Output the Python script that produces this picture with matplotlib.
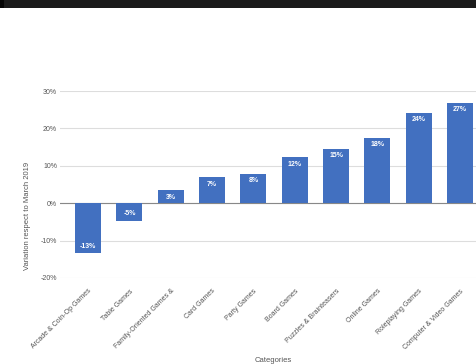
import matplotlib.pyplot as plt
from matplotlib.patches import Rectangle

categories = ["Arcade & Coin-Op Games", "Table Games", "Family-Oriented Games &",
              "Card Games", "Party Games", "Board Games", "Puzzles & Brainteasers",
              "Online Games", "Roleplaying Games", "Computer & Video Games"]
variation = [-13.4, -4.7, 3.4, 7.0, 7.9, 12.3, 14.6, 17.5, 24.2, 26.9]
bar_labels = ["-13%", "-5%", "3%", "7%", "8%", "12%", "15%", "18%", "24%", "27%"]
y_ticks = [-20, -10, 0, 10, 20, 30]

plt.rcParams['font.family'] = ['Liberation Sans', 'DejaVu Sans']
text_color = '#555555'
bar_color = '#4270c0'

fig = plt.figure(figsize=(4.77, 3.64), dpi=100)
fig.patch.set_facecolor('white')

# dark strip along the top of the screenshot
fig.patches.append(Rectangle((0, 1 - 8 / 364), 1, 8 / 364, transform=fig.transFigure,
                             facecolor='#1b1b1b', edgecolor='none', zorder=0))
fig.patches.append(Rectangle((0, 1 - 8 / 364), 4 / 477, 8 / 364, transform=fig.transFigure,
                             facecolor='#050505', edgecolor='none', zorder=1))

ax = fig.add_axes([60 / 477, 1 - 278 / 364, 417 / 477, (278 - 91) / 364])
x = range(len(categories))
bars = ax.bar(x, variation, width=0.63, color=bar_color, zorder=3)

for b, v, lab in zip(bars, variation, bar_labels):
    cx = b.get_x() + b.get_width() / 2
    if v >= 0:
        ax.text(cx, v - 1.0, lab, ha='center', va='top', color='white',
                fontsize=5, fontweight='bold', zorder=4)
    else:
        ax.text(cx, v + 1.0, lab, ha='center', va='bottom', color='white',
                fontsize=5, fontweight='bold', zorder=4)

ax.set_ylim(-20, 30)
ax.set_xlim(-0.68, 9.41)
ax.set_yticks(y_ticks)
ax.set_yticklabels([f"{t}%" for t in y_ticks])
ax.set_xticks(list(x))
ax.set_xticklabels(categories, rotation=45, ha='right', va='top', rotation_mode='anchor')
ax.tick_params(axis='both', length=0, labelsize=5, labelcolor=text_color)
ax.tick_params(axis='y', pad=2)
ax.tick_params(axis='x', pad=7)

ax.grid(True, axis='y', color='#dddddd', linewidth=0.8, zorder=0)
ax.axhline(0, color='#888888', linewidth=0.8, zorder=2)
for s in ax.spines.values():
    s.set_visible(False)

fig.text(28 / 477, 1 - 216 / 364, "Variation respect to March 2019", rotation=90,
         ha='center', va='center', fontsize=5.5, color=text_color)
fig.text(273 / 477, 1 - 360 / 364, "Categories", ha='center', va='center',
         fontsize=5.5, color=text_color)

fig.savefig("out.png", dpi=100)
